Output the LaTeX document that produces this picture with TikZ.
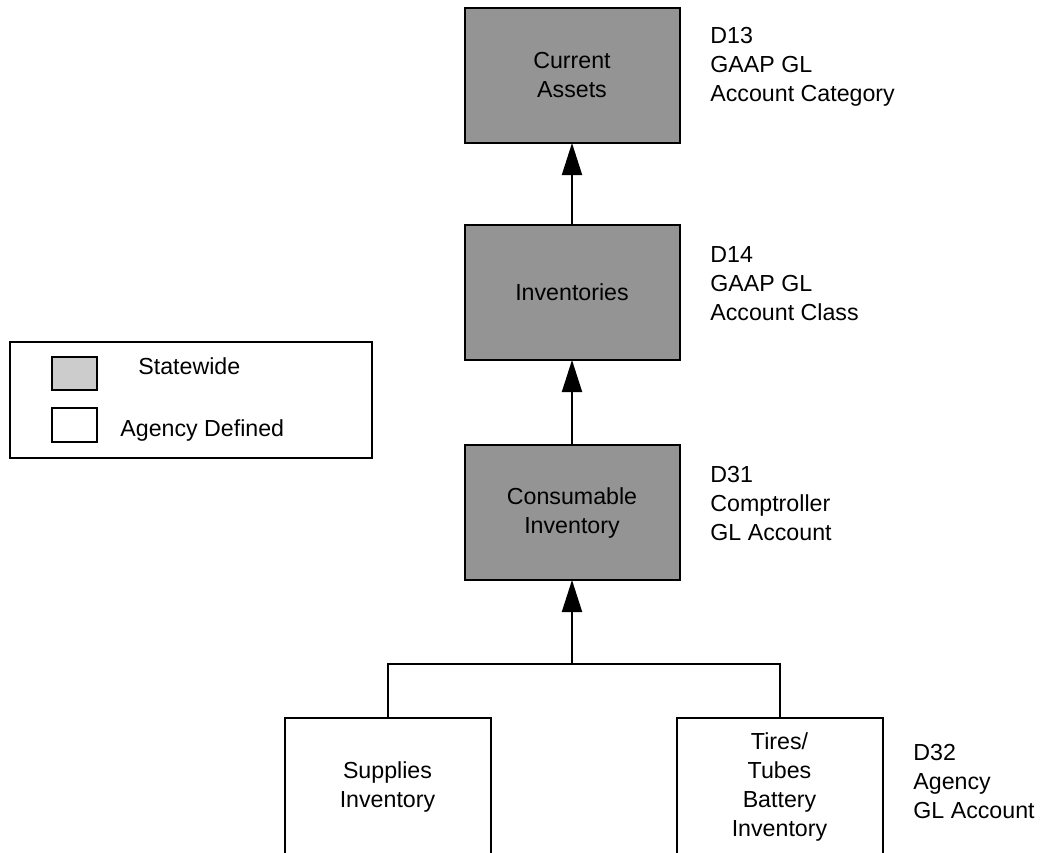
\documentclass[tikz,border=0pt]{standalone}
\usepackage{fontspec}
\setmainfont{Liberation Sans}
\usetikzlibrary{arrows.meta,positioning}

\tikzset{
  statebox/.style={draw, line width=1pt, fill=black!42, minimum width=107.5pt,
    minimum height=67.5pt, align=center, inner sep=0pt, outer sep=0pt},
  agencybox/.style={draw, line width=1pt, fill=white, minimum width=103pt,
    minimum height=68.5pt, align=center, inner sep=0pt, outer sep=0pt},
  dimlabel/.style={anchor=north west, align=left, inner sep=0pt},
  uparrow/.style={line width=1pt, -{Triangle[length=16pt, width=10pt]}},
  branch/.style={line width=1pt},
}

\begin{document}
\begin{tikzpicture}[x=0.5pt, y=-0.5pt,
    every node/.style={font=\fontsize{11.6}{14.5}\selectfont}]
            \clip (0,0) rectangle (1057,853);

            % Niveaux communs (Statewide)
            \node[statebox] (assets) at (572,75.5) {Current\\Assets};
            \node[statebox] (invent) at (572,292.5) {Inventories};
            \node[statebox] (consum) at (572,512.5) {Consumable\\Inventory};

            % Niveau agence
            \node[agencybox, anchor=north] (supplies) at (387.5,718) {Supplies\\Inventory};
            \node[agencybox, anchor=north] (tires) at (779.5,718) {Tires/\\Tubes\\Battery\\Inventory};

            % Libellés des dimensions
            \node[dimlabel] (d13) at (710,27) {D13\\GAAP GL\\Account Category};
            \node[dimlabel] (d14) at (710,246) {D14\\GAAP GL\\Account Class};
            \node[dimlabel] (d31) at (710,466) {D31\\Comptroller\\GL Account};
            \node[dimlabel] (d32) at (913,744) {D32\\Agency\\GL Account};

            % Légende
            \node[draw, line width=0.8pt, minimum width=181pt, minimum height=58pt,
                inner sep=0pt, outer sep=0pt] (legend) at (191,400) {};
            \node[statebox, fill=black!20, line width=0.8pt, minimum width=22.5pt,
                minimum height=16.5pt] (keystate) at (74.5,373.5) {};
            \node[agencybox, line width=0.8pt, minimum width=22.5pt,
                minimum height=17pt] (keyagency) at (74.5,425) {};
            \node[anchor=west, inner sep=0pt] (keystatetxt) at (138,366) {Statewide};
            \node[anchor=west, inner sep=0pt] (keyagencytxt) at (120,430) {Agency Defined};

            % Flèches de rattachement
            \draw[uparrow] (invent.north) -- (assets.south);
            \draw[uparrow] (consum.north) -- (invent.south);
            \coordinate (junction) at (572,664);
            \draw[uparrow] (junction) -- (consum.south);
            \draw[branch] (supplies.north) |- (junction) -| (tires.north);
        \end{tikzpicture}
\end{document}
